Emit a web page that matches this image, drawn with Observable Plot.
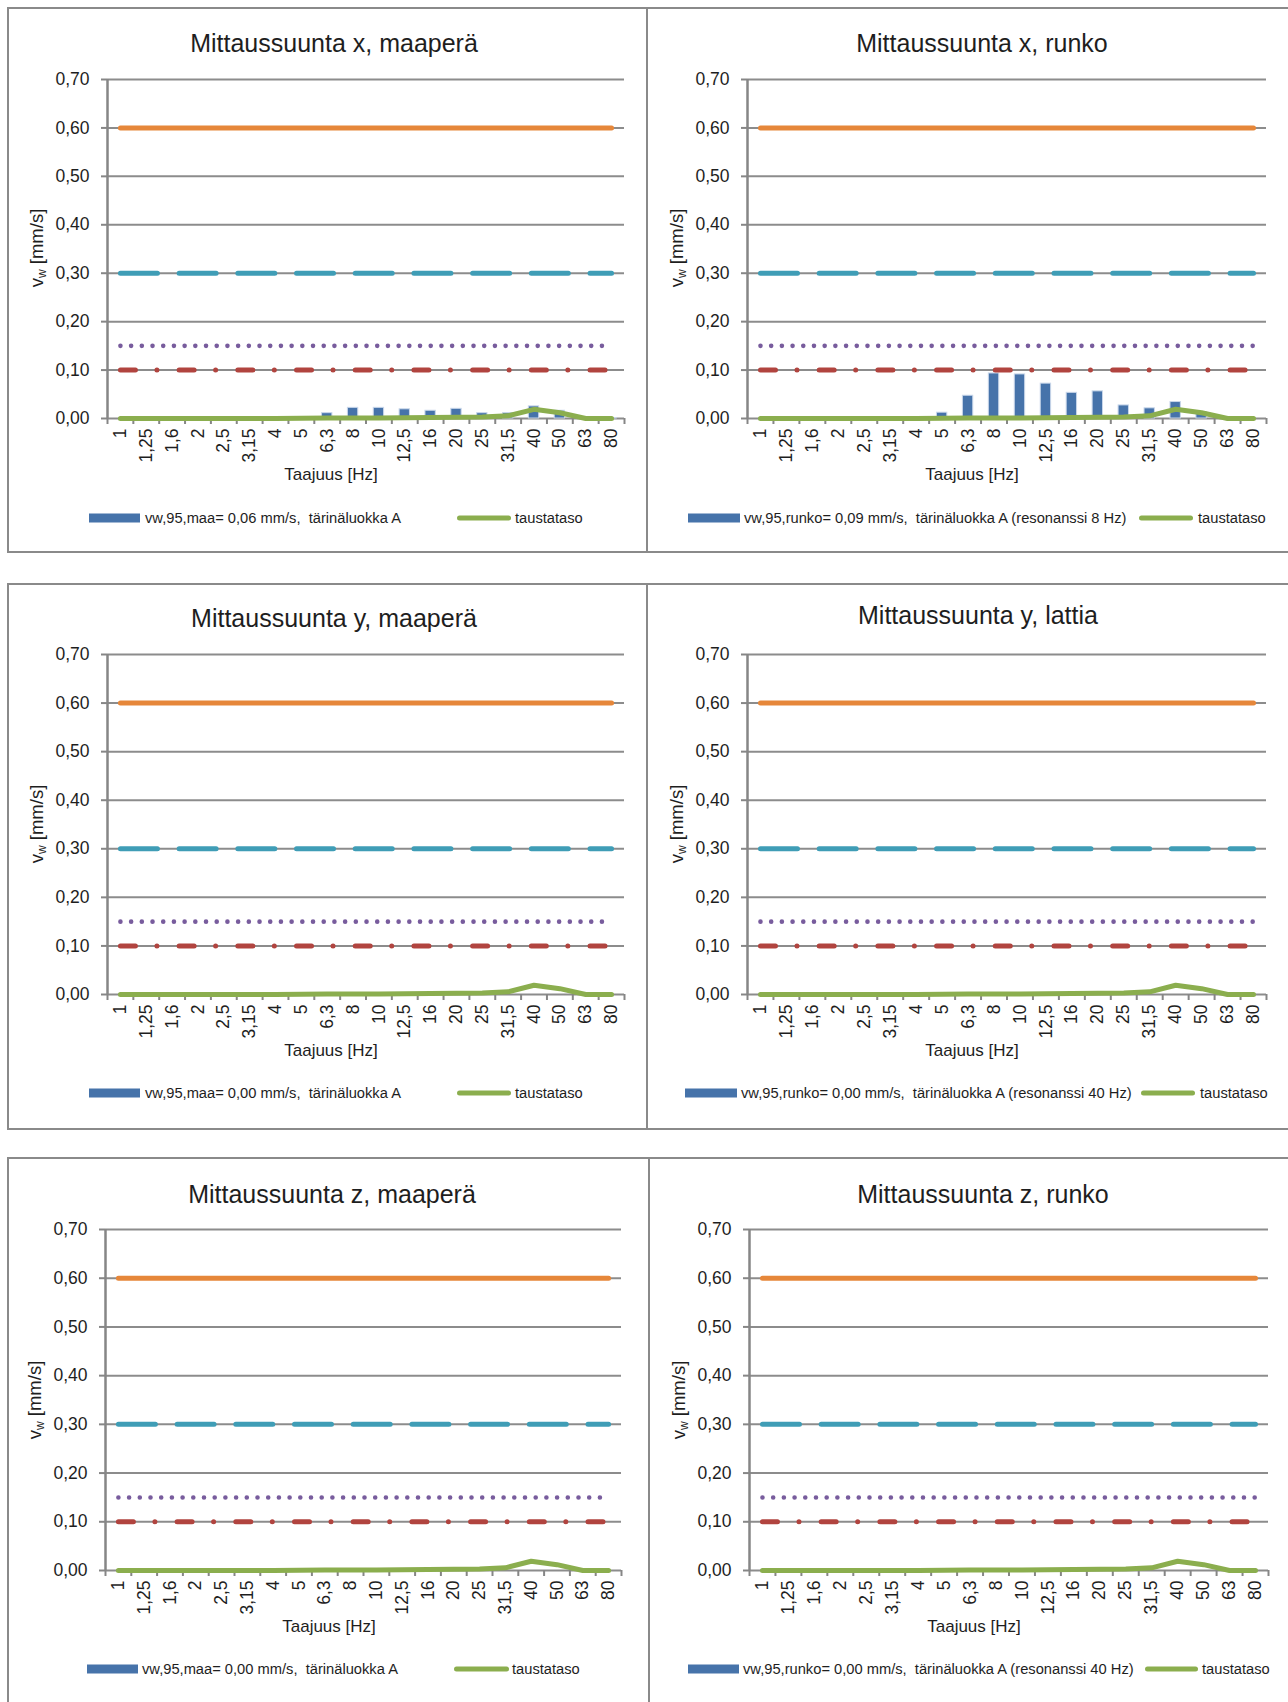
<!DOCTYPE html>
<html><head><meta charset="utf-8">
<script src="https://cdn.jsdelivr.net/npm/d3@7"></script>
<script src="https://cdn.jsdelivr.net/npm/@observablehq/plot@0.6"></script>
<style>
html,body{margin:0;padding:0;background:#fff;}
body{width:1288px;height:1702px;position:relative;overflow:hidden;font-family:"Liberation Sans",Arial,sans-serif;color:#1e1e1e;}
.panel{position:absolute;border:2px solid #8a8a8a;box-sizing:border-box;background:#fff;}
.abs{position:absolute;white-space:pre;line-height:1;}
.title{font-size:25px;transform:translate(-50%,-50%);}
.xtitle{font-size:17px;transform:translate(-50%,-50%);}
.ytitle{font-size:18.5px;transform:translate(-50%,-50%) rotate(-90deg);}
.ytitle sub{font-size:12px;vertical-align:-3px;}
.leg{font-size:14.7px;transform:translateY(-50%);}
.sw{position:absolute;height:9px;transform:translateY(-50%);}
.gl{position:absolute;height:5px;border-radius:3px;transform:translateY(-50%);}
.plot{position:absolute;}
</style>
</head><body>
<script>
// ---- data ----
const categories = ["1","1,25","1,6","2","2,5","3,15","4","5","6,3","8","10","12,5","16","20","25","31,5","40","50","63","80"];
const yTicks = [0, 0.1, 0.2, 0.3, 0.4, 0.5, 0.6, 0.7];
const limitValues = [0.60, 0.30, 0.15, 0.10];
const taustataso = [0,0,0,0,0,0,0,0.0005,0.0008,0.001,0.001,0.0015,0.002,0.0027,0.0033,0.0055,0.019,0.012,0,0];
const barsXMaapera = [0,0,0,0,0,0,0,0,0.011,0.022,0.022,0.019,0.016,0.020,0.011,0.011,0.025,0.016,0,0.001];
const barsXRunko = [0,0,0,0,0,0,0,0.012,0.047,0.093,0.091,0.072,0.053,0.056,0.027,0.021,0.034,0.013,0,0];
const barsYMaapera = [0,0,0,0,0,0,0,0,0,0,0,0,0,0,0,0,0,0,0,0];
const barsYLattia = [0,0,0,0,0,0,0,0,0,0,0,0,0,0,0,0,0,0,0,0];
const barsZMaapera = [0,0,0,0,0,0,0,0,0,0,0,0,0,0,0,0,0,0,0,0];
const barsZRunko = [0,0,0,0,0,0,0,0,0,0,0,0,0,0,0,0,0,0,0,0];
const panelTitles = ["Mittaussuunta x, maaperä","Mittaussuunta x, runko","Mittaussuunta y, maaperä","Mittaussuunta y, lattia","Mittaussuunta z, maaperä","Mittaussuunta z, runko"];
const barLegends = [
  "vw,95,maa= 0,06 mm/s,  tärinäluokka A",
  "vw,95,runko= 0,09 mm/s,  tärinäluokka A (resonanssi 8 Hz)",
  "vw,95,maa= 0,00 mm/s,  tärinäluokka A",
  "vw,95,runko= 0,00 mm/s,  tärinäluokka A (resonanssi 40 Hz)",
  "vw,95,maa= 0,00 mm/s,  tärinäluokka A",
  "vw,95,runko= 0,00 mm/s,  tärinäluokka A (resonanssi 40 Hz)"
];
const lineLegend = "taustataso";
const xTitle = "Taajuus [Hz]";
const panelBars = [barsXMaapera, barsXRunko, barsYMaapera, barsYLattia, barsZMaapera, barsZRunko];

// ---- styles / layout ----
const C = {blue:"#4673aa", green:"#8bae4e", orange:"#e6873a", cyan:"#3f9db6", purple:"#785c9d", red:"#b1443f", grid:"#8c8c8c", axis:"#868686", text:"#1e1e1e"};
const limitStyles = [
  {stroke:C.orange, strokeWidth:5, strokeDasharray:null},
  {stroke:C.cyan, strokeWidth:5, strokeDasharray:"37,21.7"},
  {stroke:C.purple, strokeWidth:4.6, strokeDasharray:"0,10.7"},
  {stroke:C.red, strokeWidth:5, strokeDasharray:"15,21.5,0,22.2"}
];
const layouts = [
  {box:[7,7,641,546], ax:107, ae:624, yt:79, yb:418, title:[334,43], yl:[38,248], xl:[331,474], ly:518, sw:[89,140], tx:145, gs:[457,511], gt:515},
  {box:[646,7,700,546], ax:747, ae:1266, yt:79, yb:418, title:[982,43], yl:[678,248], xl:[972,474], ly:518, sw:[688,740], tx:744, gs:[1139,1193], gt:1198},
  {box:[7,583,641,547], ax:107, ae:624, yt:654, yb:994, title:[334,618], yl:[38,824], xl:[331,1050], ly:1093, sw:[89,140], tx:145, gs:[457,511], gt:515},
  {box:[646,583,700,547], ax:747, ae:1266, yt:654, yb:994, title:[978,615], yl:[678,824], xl:[972,1050], ly:1093, sw:[685,737], tx:741, gs:[1141,1195], gt:1200},
  {box:[7,1157,643,600], ax:105, ae:621, yt:1229, yb:1570, title:[332,1194], yl:[36,1400], xl:[329,1626], ly:1669, sw:[87,138], tx:142, gs:[454,509], gt:512},
  {box:[648,1157,700,600], ax:749, ae:1268, yt:1229, yb:1570, title:[983,1194], yl:[680,1400], xl:[974,1626], ly:1669, sw:[688,739], tx:743, gs:[1145,1198], gt:1202}
];

function el(tag, cls, css, html){
  const e = document.createElement(tag);
  if (cls) e.className = cls;
  Object.assign(e.style, css);
  if (html != null) e.innerHTML = html;
  document.body.appendChild(e);
  return e;
}
const fmt = d => d.toFixed(2).replace(".", ",");

layouts.forEach((L, p) => {
  const [bx, by, bw, bh] = L.box;
  el("div", "panel", {left:bx+"px", top:by+"px", width:bw+"px", height:bh+"px"});

  const ML = 70, MR = 12, MT = 12, MB = 60;
  const bars = panelBars[p].map((v, i) => ({i, v}));
  const bg = taustataso.map((v, i) => ({i, v}));
  const limitMarks = limitValues.map((lv, k) =>
    Plot.line(categories.map((c, i) => ({i, v: lv})), {
      x: d => d.i + 0.5, y: "v", stroke: limitStyles[k].stroke, strokeWidth: limitStyles[k].strokeWidth,
      strokeDasharray: limitStyles[k].strokeDasharray, strokeLinecap: "round"
    })
  );
  const chart = Plot.plot({
    width: (L.ae - L.ax) + ML + MR,
    height: (L.yb - L.yt) + MT + MB,
    marginLeft: ML, marginRight: MR, marginTop: MT, marginBottom: MB,
    style: {fontFamily: '"Liberation Sans", Arial, sans-serif', fontSize: "17.5px", color: C.text, background: "transparent", overflow: "visible"},
    x: {type: "linear", domain: [0, categories.length]},
    y: {domain: [0, 0.7]},
    marks: [
      Plot.ruleY(yTicks, {stroke: C.grid, strokeWidth: 2}),
      Plot.ruleX([0], {y1: 0, y2: 0.7, stroke: C.axis, strokeWidth: 2.5}),
      Plot.axisY({ticks: yTicks, tickSize: 6, tickPadding: 12, tickFormat: fmt, stroke: C.axis, strokeWidth: 2, fill: C.text, label: null}),
      Plot.axisX({ticks: d3.range(categories.length + 1), tickSize: 6, tickFormat: () => "", stroke: C.axis, strokeWidth: 2, label: null}),
      Plot.axisX({ticks: categories.map((c, i) => i + 0.5), tickSize: 0, tickPadding: 10, tickRotate: -90,
        tickFormat: v => categories[Math.floor(v)], fill: C.text, label: null}),
      Plot.rectY(bars.filter(d => d.v > 0), {x1: d => d.i + 0.3, x2: d => d.i + 0.7, y1: 0, y2: "v", fill: C.blue, stroke: "#c9d7ea", strokeWidth: 1}),
      ...limitMarks,
      Plot.line(bg, {x: d => d.i + 0.5, y: "v", stroke: C.green, strokeWidth: 5, strokeLinecap: "round", strokeLinejoin: "round"})
    ]
  });
  chart.classList.add("plot");
  chart.style.left = (L.ax - ML) + "px";
  chart.style.top = (L.yt - MT) + "px";
  document.body.appendChild(chart);

  el("div", "abs title", {left: L.title[0] + "px", top: L.title[1] + "px"}, panelTitles[p]);
  el("div", "abs xtitle", {left: L.xl[0] + "px", top: L.xl[1] + "px"}, xTitle);
  el("div", "abs ytitle", {left: L.yl[0] + "px", top: L.yl[1] + "px"}, "v<sub>w</sub> [mm/s]");
  el("div", "sw", {left: L.sw[0] + "px", top: L.ly + "px", width: (L.sw[1] - L.sw[0]) + "px", background: C.blue});
  el("div", "abs leg", {left: L.tx + "px", top: L.ly + "px"}, barLegends[p]);
  el("div", "gl", {left: L.gs[0] + "px", top: L.ly + "px", width: (L.gs[1] - L.gs[0]) + "px", background: C.green});
  el("div", "abs leg", {left: L.gt + "px", top: L.ly + "px"}, lineLegend);
});
</script>
</body></html>
